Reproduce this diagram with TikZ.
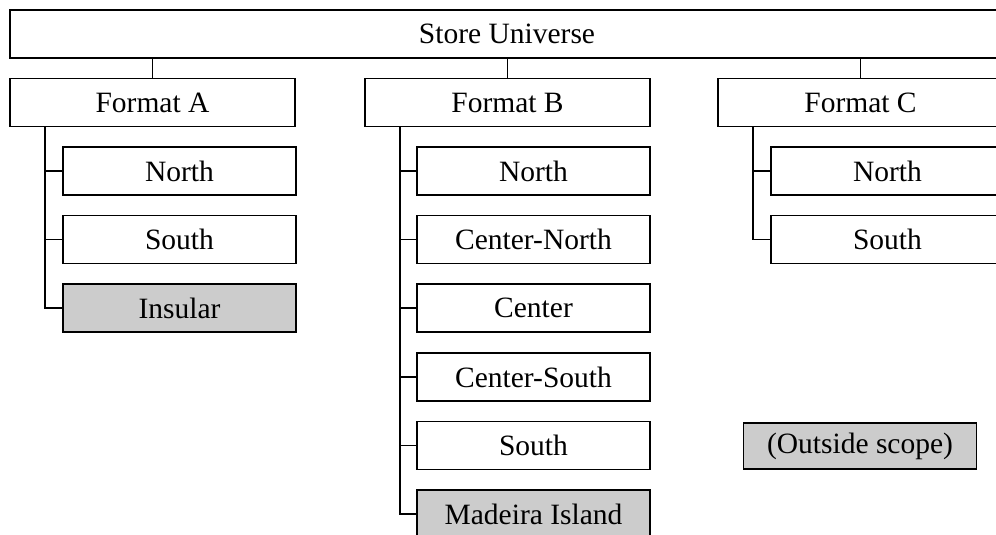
\documentclass[tikz,border=0pt]{standalone}
\usepackage{fontspec}
\setmainfont{Liberation Serif}

\begin{document}
\begin{tikzpicture}[x=1pt, y=-1pt,
  box/.style={draw=black, line width=1.8pt, fill=white, minimum height=48pt, inner sep=0pt, font=\fontsize{29.5}{34}\selectfont},
  fmtbox/.style={box, minimum width=285pt},
  regbox/.style={box, minimum width=233pt},
  outscope/.style={fill=gray!40},
  link/.style={line width=1.7pt}]

\clip (0,0) rectangle (996,535);

\node[box, minimum width=994pt] (root) at (507, 34) {Store Universe};

\node[fmtbox] (fa) at (152.5, 102.5) {Format A};
\node[fmtbox] (fb) at (507.5, 102.5) {Format B};
\node[fmtbox] (fc) at (860.5, 102.5) {Format C};

\node[regbox] (fa1) at (179.5, 171) {North};
\node[regbox] (fa2) at (179.5, 239.5) {South};
\node[regbox, outscope] (fa3) at (179.5, 308) {Insular};

\node[regbox] (fb1) at (533.5, 171) {North};
\node[regbox] (fb2) at (533.5, 239.5) {Center-North};
\node[regbox] (fb3) at (533.5, 308) {Center};
\node[regbox] (fb4) at (533.5, 377) {Center-South};
\node[regbox] (fb5) at (533.5, 445.5) {South};
\node[regbox, outscope] (fb6) at (533.5, 514) {Madeira Island};

\node[regbox] (fc1) at (887.5, 171) {North};
\node[regbox] (fc2) at (887.5, 239.5) {South};

\node[regbox, outscope, minimum height=46pt] (legend) at (860, 446) {(Outside scope)};

\coordinate (ta) at ([xshift=36pt]fa.south west);
\coordinate (tb) at ([xshift=36pt]fb.south west);
\coordinate (tc) at ([xshift=36pt]fc.south west);

\draw[link] (fa.north) -- (fa.north |- root.south);
\draw[link] (fb.north) -- (fb.north |- root.south);
\draw[link] (fc.north) -- (fc.north |- root.south);

\draw[link] (ta) |- (fa1.west);
\draw[link] (ta) |- (fa2.west);
\draw[link] (ta) |- (fa3.west);

\draw[link] (tb) |- (fb1.west);
\draw[link] (tb) |- (fb2.west);
\draw[link] (tb) |- (fb3.west);
\draw[link] (tb) |- (fb4.west);
\draw[link] (tb) |- (fb5.west);
\draw[link] (tb) |- (fb6.west);

\draw[link] (tc) |- (fc1.west);
\draw[link] (tc) |- (fc2.west);

\end{tikzpicture}
\end{document}
